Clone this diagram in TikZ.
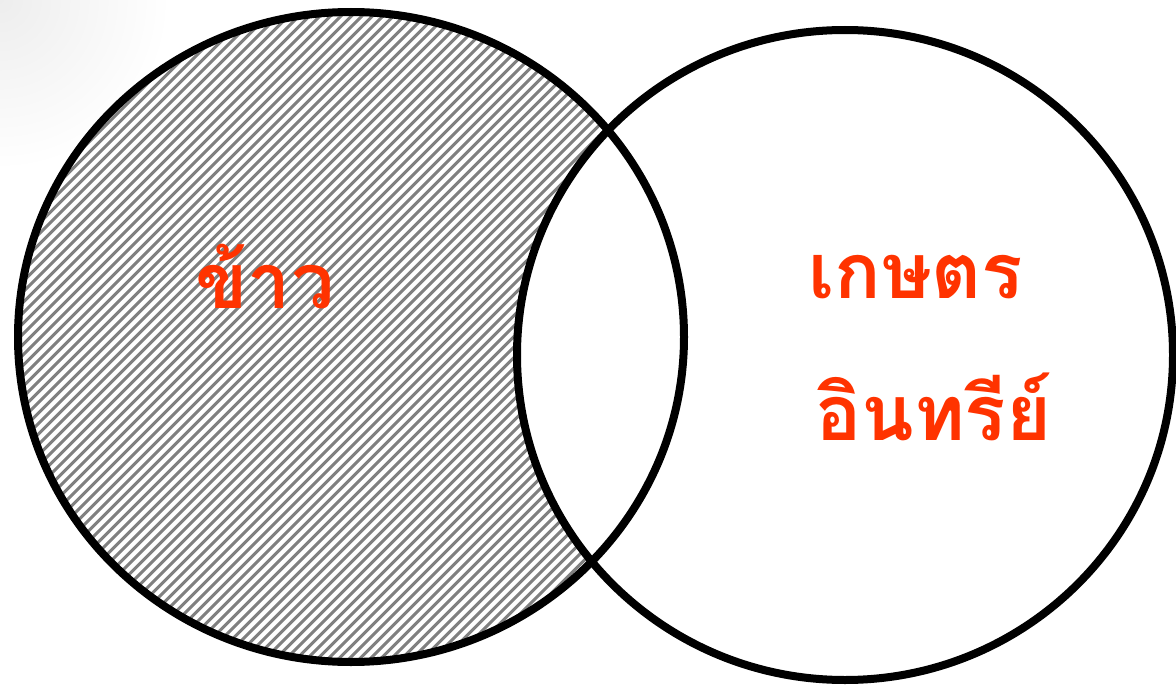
\documentclass[tikz,border=0pt]{standalone}
\usepackage{fontspec}
\usetikzlibrary{shapes.geometric}
\newfontfamily\thaifont[Script=Thai]{Loma}
\definecolor{thaired}{HTML}{FF3300}
\definecolor{hatchgray}{HTML}{808080}
\begin{document}
\begin{tikzpicture}[x=1pt,y=-1pt,
  ring/.style={draw=black,line width=8pt},
  label/.style={text=thaired,font=\thaifont\bfseries\fontsize{77}{80}\selectfont,inner sep=0pt},
  hatch/.style={draw=hatchgray,line width=3pt}]
\useasboundingbox (0,0) rectangle (1176,685);
\fill[white] (0,0) rectangle (1176,685);
\shade[inner color=black!7,outer color=white] (0,0) circle (170);
% hatched region: left circle minus right circle
\begin{scope}[even odd rule]
  \clip (351,337) ellipse (333 and 325);
  \clip (-20,-20) rectangle (1200,720) (845,355) ellipse (328 and 325);
  \fill[white] (0,0) rectangle (700,685);
  \foreach \k in {-700,-689.5,...,700} {
    \draw[hatch] (\k,700) -- (\k+720,-20);
  }
\end{scope}
\node[ring,ellipse,minimum width=666pt,minimum height=650pt,inner sep=0pt] (left) at (351,337) {};
\node[ring,ellipse,minimum width=656pt,minimum height=650pt,inner sep=0pt] (right) at (845,355) {};
\node[label,anchor=base west] (rice) at (195,308) {ข้าว};
\node[label,anchor=base west] (agri) at (808,298) {เกษตร};
\node[label,anchor=base west] (organic) at (815,440) {อินทรีย์};
\end{tikzpicture}
\end{document}
